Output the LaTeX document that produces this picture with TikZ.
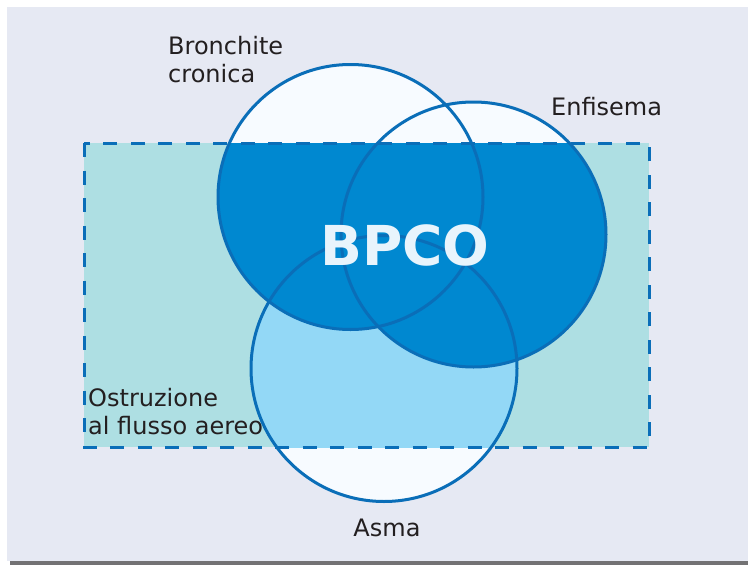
\documentclass[tikz,border=0pt]{standalone}
\usepackage{fontspec}
\setmainfont{DejaVu Sans}
\definecolor{bgc}{HTML}{E6E9F3}
\definecolor{tealc}{HTML}{AEDFE3}
\definecolor{whitec}{HTML}{F7FBFF}
\definecolor{darkc}{HTML}{0088D0}
\definecolor{lightc}{HTML}{93D8F6}
\definecolor{strokec}{HTML}{0A6EB8}
\definecolor{textc}{HTML}{231F20}
\definecolor{bpcoc}{HTML}{E8F4FC}
\definecolor{barc}{HTML}{737274}
\tikzset{
  lbl/.style={inner sep=0pt, text=textc, font=\fontsize{24}{28}\selectfont, align=left},
  ring/.style={draw=strokec, line width=3pt},
  dashbox/.style={draw=strokec, line width=3pt, dash pattern=on 14pt off 13.5pt},
}
\begin{document}
\begin{tikzpicture}[x=1pt,y=-1pt]
\useasboundingbox (0,0) rectangle (748,565);
\fill[bgc] (7,7) rectangle (748,561);
\fill[barc] (10,561) rectangle (748,565);
% coordinates
\coordinate (cB) at (350.5,197);
\coordinate (cE) at (473.5,234.5);
\coordinate (cA) at (384,368.5);
\coordinate (rTL) at (84,143);
\coordinate (rBR) at (649,447);
% white circles (parts outside the box)
\fill[whitec] (cB) circle (132.5);
\fill[whitec] (cE) circle (132.5);
\fill[whitec] (cA) circle (133);
% inside the box
\begin{scope}
  \clip (rTL) rectangle (rBR);
  \fill[tealc] (rTL) rectangle (rBR);
  \fill[lightc] (cA) circle (133);
  \fill[darkc] (cB) circle (132.5);
  \fill[darkc] (cE) circle (132.5);
\end{scope}
% dashed box
\draw[dashbox] (rTL) rectangle (rBR);
% circle outlines
\draw[ring] (cB) circle (132.5);
\draw[ring] (cE) circle (132.5);
\draw[ring] (cA) circle (133);
% labels
\node[lbl, anchor=north west] (bron) at (168,36.5) {Bronchite\\cronica};
\node[lbl, anchor=base west] (enf) at (551,115) {Enfisema};
\node[lbl, anchor=north west] (ostr) at (88,388.5) {Ostruzione\\al flusso aereo};
\node[lbl, anchor=base] (asma) at (387,536) {Asma};
\node[inner sep=0pt, anchor=base, text=bpcoc, font=\fontsize{55}{60}\selectfont\bfseries] (bpco) at (405,265) {BPCO};
\end{tikzpicture}
\end{document}
